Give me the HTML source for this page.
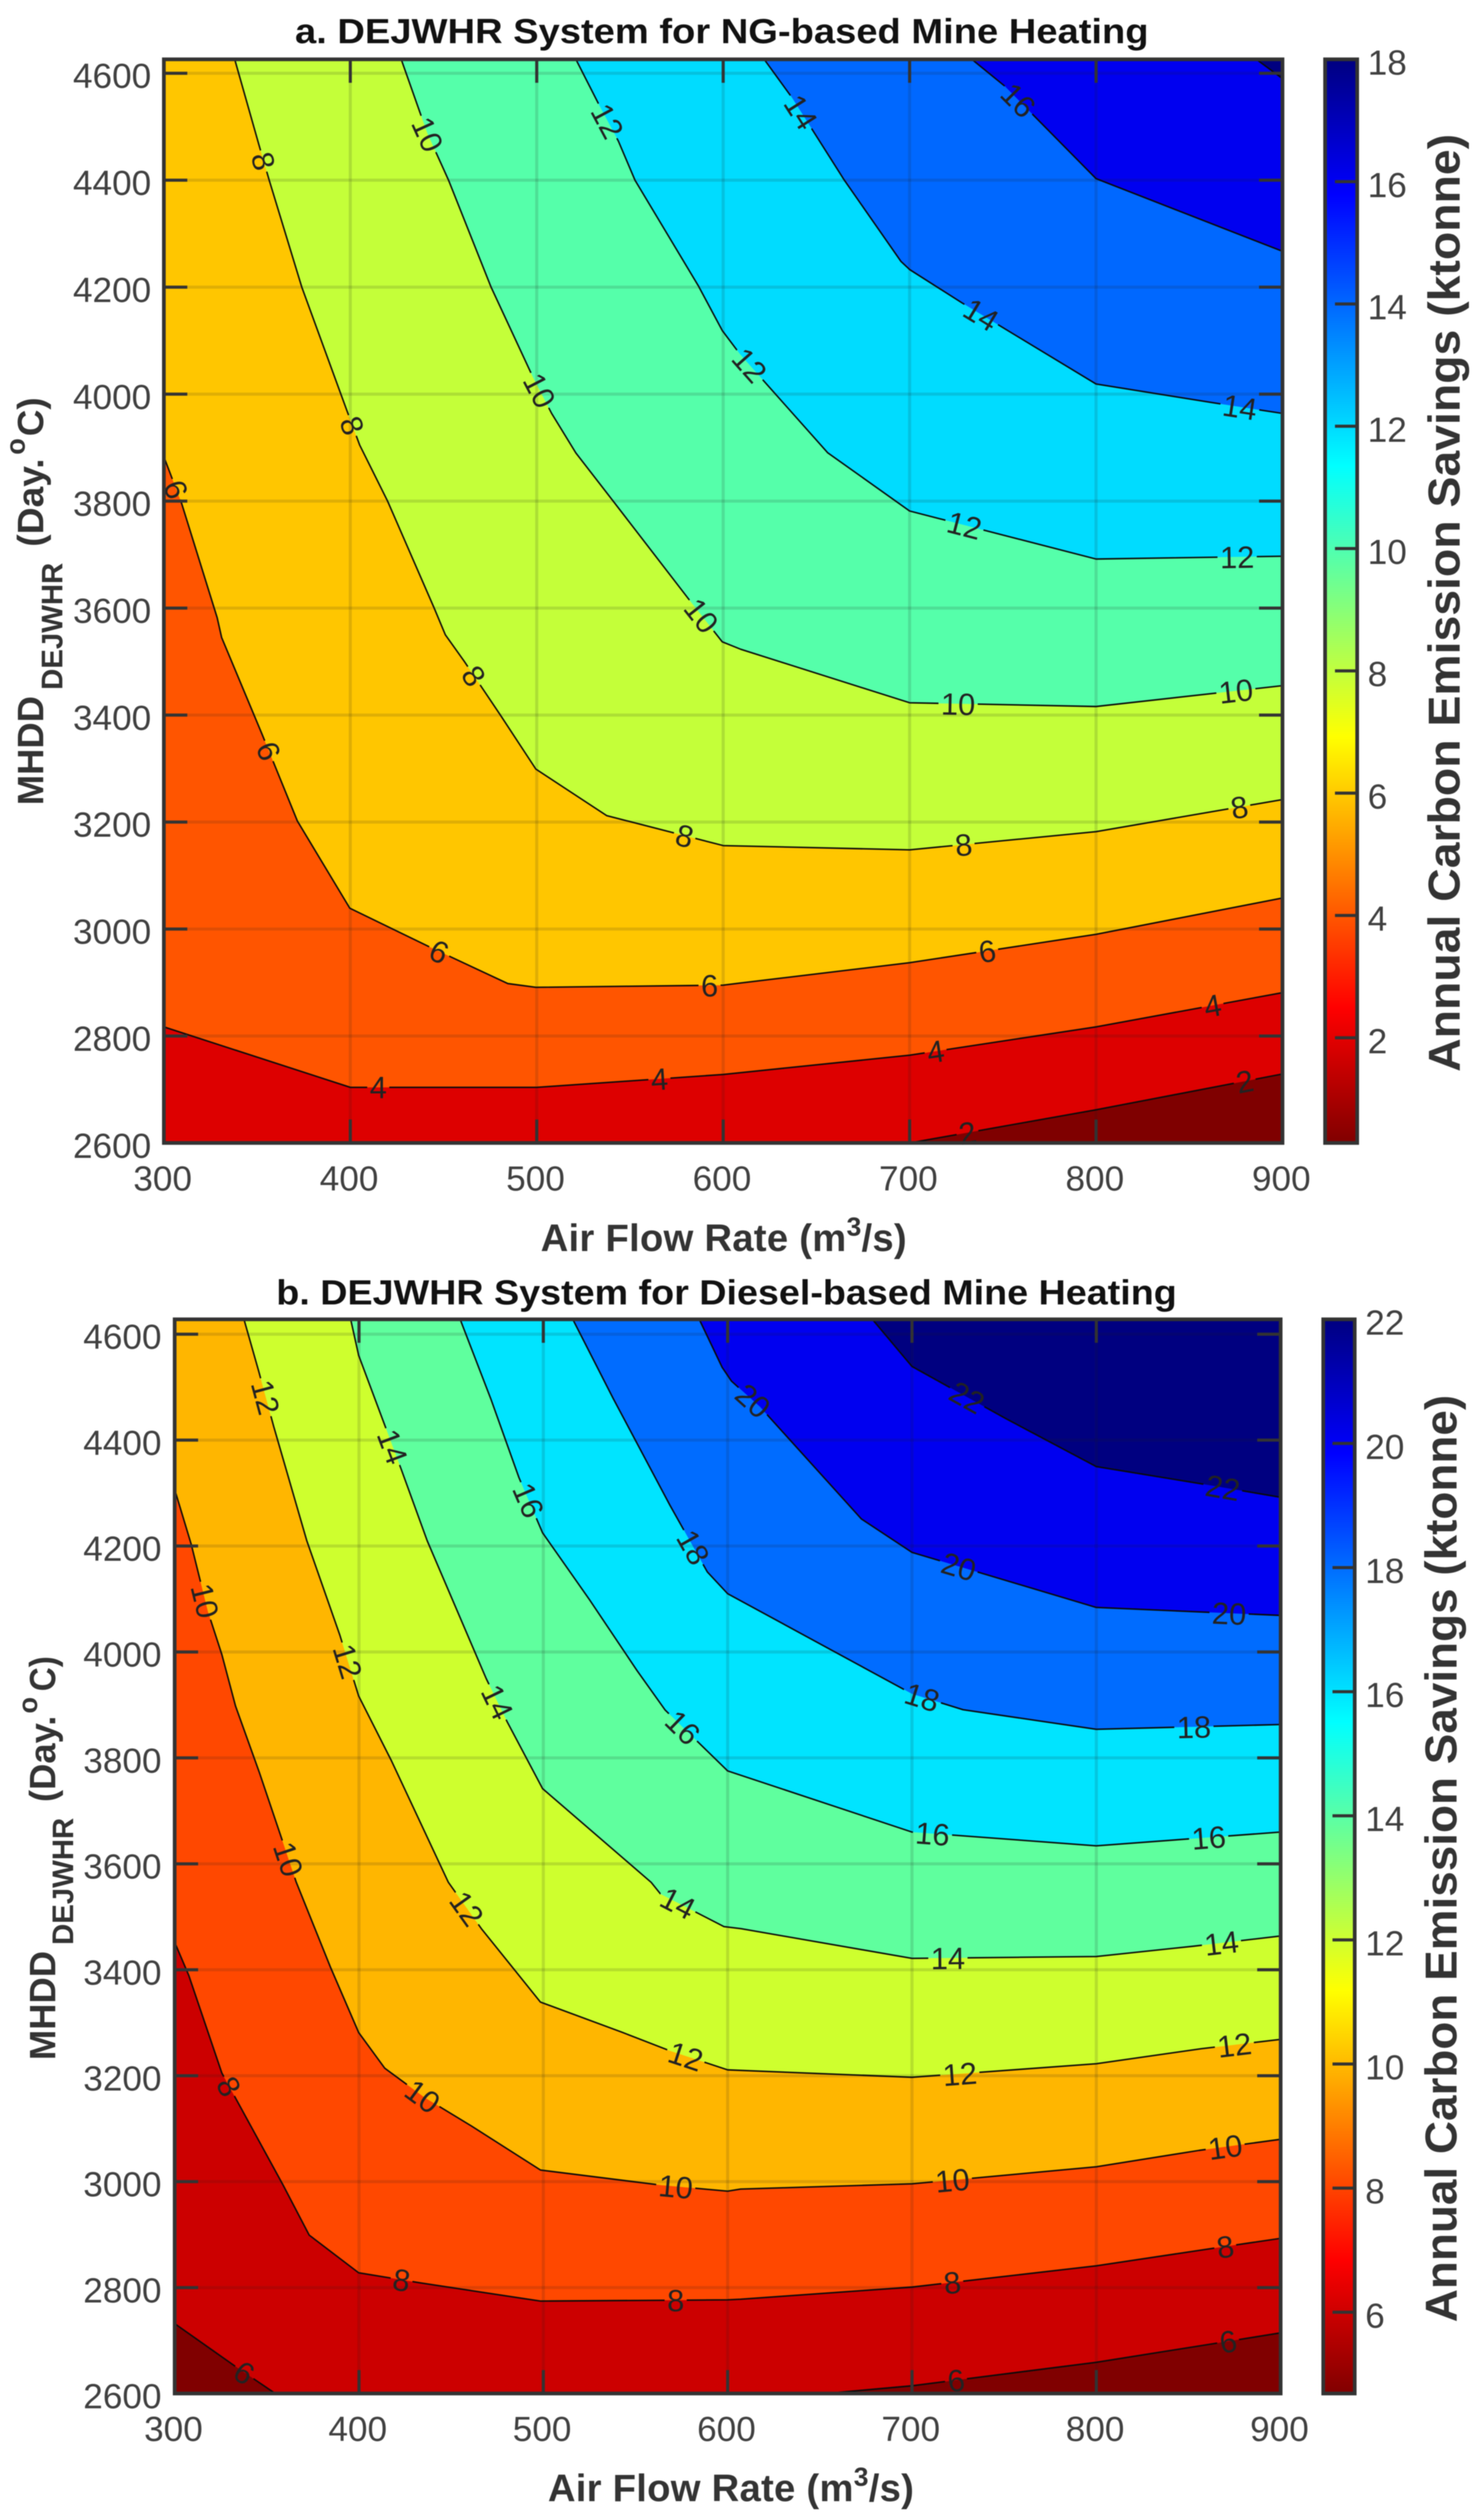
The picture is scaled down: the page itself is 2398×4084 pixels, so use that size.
<!DOCTYPE html>
<html lang="en">
<head>
<meta charset="utf-8">
<title>DEJWHR System Annual Carbon Emission Savings</title>
<style>
  html, body { margin: 0; padding: 0; background: #ffffff; }
  body { width: 2398px; height: 4084px; overflow: hidden; }
  svg { display: block; filter: blur(0.9px); font-family: "Liberation Sans", Arial, sans-serif; }
  .title { font-size: 57px; font-weight: bold; fill: #111; }
  .axis-title { font-size: 62px; font-weight: bold; fill: #333; letter-spacing: 0.4px; }
  .y-main { font-size: 59px; font-weight: bold; fill: #333; }
  .y-sub { font-size: 48px; font-weight: bold; fill: #333; }
  .y-sup { font-size: 44px; font-weight: bold; fill: #333; }
  .bar-title { font-size: 72px; font-weight: bold; fill: #333; }
</style>
</head>
<body>
<svg id="figure" xmlns="http://www.w3.org/2000/svg" width="2398" height="4084" viewBox="0 0 2398 4084">
  <defs id="figure-defs">
    <linearGradient id="jet-reversed" x1="0" y1="0" x2="0" y2="1">
      <stop offset="0" stop-color="#000080"/>
      <stop offset="0.125" stop-color="#0000ff"/>
      <stop offset="0.375" stop-color="#00ffff"/>
      <stop offset="0.625" stop-color="#ffff00"/>
      <stop offset="0.875" stop-color="#ff0000"/>
      <stop offset="1" stop-color="#800000"/>
    </linearGradient>
  </defs>
  <rect width="2398" height="4084" fill="#ffffff"/>

  <g id="panel-a">
    <text class="title" x="478" y="70" textLength="1383" lengthAdjust="spacingAndGlyphs">a. DEJWHR System for NG-based Mine Heating</text>
    <text class="axis-title" x="876" y="2027.7">Air Flow Rate (m<tspan font-size="43" dy="-25">3</tspan><tspan dy="25">/s)</tspan></text>
    <g>
      <text class="y-main" transform="translate(70,1305) rotate(-90)" textLength="177" lengthAdjust="spacingAndGlyphs">MHDD</text>
      <text class="y-sub" transform="translate(101,1118) rotate(-90)" textLength="206" lengthAdjust="spacingAndGlyphs">DEJWHR</text>
      <text class="y-main" transform="translate(70,886) rotate(-90)" textLength="143" lengthAdjust="spacingAndGlyphs">(Day.</text>
      <text class="y-sup" transform="translate(40,737) rotate(-90)">o</text>
      <text class="y-main" transform="translate(70,707) rotate(-90)" textLength="63" lengthAdjust="spacingAndGlyphs">C)</text>
    </g>
    <text class="bar-title" transform="translate(2365,1737) rotate(-90)" textLength="1520" lengthAdjust="spacingAndGlyphs">Annual Carbon Emission Savings  (ktonne)</text>
  </g>

  <g id="panel-b">
    <text class="title" x="447.7" y="2113.8" textLength="1459" lengthAdjust="spacingAndGlyphs">b. DEJWHR System for Diesel-based Mine Heating</text>
    <text class="axis-title" x="887.7" y="4053.7">Air Flow Rate (m<tspan font-size="43" dy="-25">3</tspan><tspan dy="25">/s)</tspan></text>
    <g>
      <text class="y-main" transform="translate(89.5,3338.8) rotate(-90)" textLength="177" lengthAdjust="spacingAndGlyphs">MHDD</text>
      <text class="y-sub" transform="translate(118.6,3152) rotate(-90)" textLength="206" lengthAdjust="spacingAndGlyphs">DEJWHR</text>
      <text class="y-main" transform="translate(89.5,2920.5) rotate(-90)" textLength="140" lengthAdjust="spacingAndGlyphs">(Day.</text>
      <text class="y-sup" transform="translate(60,2777) rotate(-90)">o</text>
      <text class="y-main" transform="translate(89.5,2741) rotate(-90)" textLength="57" lengthAdjust="spacingAndGlyphs">C)</text>
    </g>
    <text class="bar-title" transform="translate(2360,3763.5) rotate(-90)" textLength="1503" lengthAdjust="spacingAndGlyphs">Annual Carbon Emission Savings  (ktonne)</text>
  </g>
</svg>

<script>
// Shared axis ticks (air flow rate m3/s, MHDD day.degC)
const xTicks = [300, 400, 500, 600, 700, 800, 900];
const yTicks = [2600, 2800, 3000, 3200, 3400, 3600, 3800, 4000, 4200, 4400, 4600];

// Panel a: contour levels and [air flow, MHDD] vertices
const aLevels = [2, 4, 6, 8, 10, 12, 14, 16, 18];
const aContour2 = [[700,2600],[800,2662],[900,2729]];
const aContour4 = [[300,2817],[400,2704],[500,2704],[600,2728],[700,2764],[800,2817],[900,2881]];
const aContour6 = [[300,3883],[309.6,3795],[328.6,3582],[331,3545],[352.7,3364],[371.6,3202],[399.7,3039],[444,2964],[484.5,2898],[499.5,2891],[600,2895],[609.4,2899],[700,2937],[800,2990],[900,3058]];
const aContour8 = [[338,4626],[351,4466],[356.5,4400],[374,4200],[398,3971],[405,3905],[420,3800],[445,3600],[451,3550],[461,3501],[480.5,3400],[499.5,3299],[537.5,3212],[575.5,3178],[600,3156],[700,3148],[800,3182],[900,3242]];
const aContour10 = [[427.3,4626],[441.3,4488],[450,4421],[452.7,4400],[475.5,4200],[498.2,4030],[508,3964],[521,3890],[541,3800],[583,3610],[599.5,3537],[609.4,3523],[700,3423],[800,3416],[900,3455]];
const aContour12 = [[521,4626],[533.7,4539],[543.8,4473],[552.7,4400],[586.8,4201.8],[599.5,4119],[609,4075],[618.5,4037.6],[656,3890.6],[700,3781.6],[800,3691.7],[900,3697]];
const aContour14 = [[622,4626],[637,4554],[665,4400],[695.4,4248],[700,4233],[728,4171],[800,4019],[862.5,3984],[900,3964]];
const aContour16 = [[733.4,4626],[751,4576],[800,4403],[900,4267]];
const aContour18 = [[886,4626],[900,4590]];
const aSegments = [[aContour2],[aContour4],[aContour6],[aContour8],[aContour10],[aContour12],[aContour14],[aContour16],[aContour18]];
// Panel a: printed contour labels [value, air flow, MHDD]
const aLabels = [[8,352.7,4435],[10,441,4485],[12,536,4507],[10,501,4006],[8,400.8,3941],[6,305,3820],[12,614.4,4055],[14,639.7,4523],[16,756,4541.7],[14,737.7,4145],[14,877,3973],[12,729,3749.6],[12,875.7,3688],[10,584.7,3576],[8,466,3472.7],[6,355,3331],[8,579,3170],[6,447,2953],[6,592.7,2892.5],[4,415,2699],[4,565.8,2719],[10,726,3422],[10,875,3444.5],[8,729,3155],[8,877,3225],[6,741.8,2954.7],[4,714,2770],[4,862.5,2857],[2,731,2620],[2,880,2710.7]];
// Panel a: colorbar
const aBarTicks = [2, 4, 6, 8, 10, 12, 14, 16, 18];
const aBarRange = [0.28, 18];

// Panel b: contour levels and [air flow, MHDD] vertices
const bLevels = [6, 8, 10, 12, 14, 16, 18, 20, 22];
const bContour6Left = [[300,2732],[332.8,2651.5],[354.6,2600]];
const bContour6Right = [[653.4,2600],[700,2614.6],[800,2659],[863,2693.8],[900,2714.5]];
const bContour8 = [[300,3452],[307.7,3389],[325.6,3205],[358.9,2993],[373,2899],[399.8,2828],[433,2809],[498.4,2774.5],[600,2776.8],[607,2778],[700,2801],[800,2841],[863,2874],[900,2893]];
const bContour10 = [[300,4307],[309,4203],[318,4076.6],[325.6,3995],[333,3898],[346,3772],[359,3638],[366,3565],[384.5,3405],[399.8,3281.6],[414,3214],[435.6,3158.7],[461,3105],[498.4,3022],[563.6,2993.5],[600,2982],[607,2986],[700,2995.8],[800,3028],[855.7,3059],[900,3080]];
const bContour12 = [[337.6,4628],[345.6,4530],[353.7,4426],[371.7,4210],[389.6,4032],[399.8,3917],[417.7,3794],[448.5,3565],[466.4,3477.6],[498.4,3339],[543,3281.6],[568.7,3247],[600,3211],[700,3197],[800,3222.5],[857,3251],[900,3268.6]];
const bContour14 = [[395.5,4628],[399.8,4560],[415,4418.6],[423,4344],[437,4210],[469,3950],[480.4,3868],[499.6,3742],[558.5,3565],[563.6,3543],[598,3481.5],[607.3,3477.6],[700,3421.5],[800,3425],[853,3444.6],[900,3463.8]];
const bContour16 = [[454.9,4628],[471.5,4478],[486.8,4329],[499.6,4225],[525,4099],[550.8,3965],[566,3890.7],[600,3775.5],[700,3660],[800,3634],[900,3660]];
const bContour18 = [[516,4628],[538,4478],[568.7,4277],[589,4151],[600,4110],[700,3921],[727.7,3891],[800,3854],[900,3863]];
const bContour20 = [[584.6,4628],[597,4537.5],[602,4511.6],[617.5,4463],[672.6,4251],[700,4188],[800,4084],[900,4069]];
const bContour22 = [[678.5,4628],[700,4539],[750.7,4441],[800,4350],[863,4314],[900,4292]];
const bSegments = [[bContour6Left, bContour6Right],[bContour8],[bContour10],[bContour12],[bContour14],[bContour16],[bContour18],[bContour20],[bContour22]];
// Panel b: printed contour labels [value, air flow, MHDD]
const bLabels = [[12,348,4479.6],[14,417,4386],[16,491,4285],[18,581,4197],[20,613.7,4474],[22,729.7,4479.6],[22,868.5,4308.5],[20,725,4157],[20,872,4070.6],[18,705,3909],[18,853,3850],[16,711,3651],[16,861,3647.6],[10,317,4097],[12,392.6,3981],[14,473,3902],[16,575,3855],[10,361,3608],[12,457,3512],[14,573,3526],[10,434,3158.7],[12,577,3234],[8,328.5,3178],[10,571.8,2989.6],[8,423,2813],[8,571.8,2773],[6,337.4,2637.7],[14,719.5,3418],[14,868,3447],[12,726,3201],[12,875,3255],[10,722,2999],[10,870,3063],[8,722,2805],[8,870,2876],[6,724,2622],[6,871.6,2696]];
// Panel b: colorbar
const bBarTicks = [6, 8, 10, 12, 14, 16, 18, 20, 22];
const bBarRange = [4.69, 22];

// Band colours, lowest band first
const aBandColors = ['#7f0000','#dd0000','#ff5500','#ffc600','#c4ff39','#55ffaa','#00dcff','#0068ff','#0000f0','#000080'];
const bBandColors = ['#800000','#cc0000','#ff4800','#ffb600','#ceff2e','#5fff9e','#00e4ff','#006cff','#0000f0','#000080'];

const NS = 'http://www.w3.org/2000/svg';
const AXIS_COLOR = '#333333';
const LABEL_FONT = 50;
const TICK_FONT = 57;

function make(tag, parent, attrs) {
  const node = document.createElementNS(NS, tag);
  for (const key in attrs) { node.setAttribute(key, attrs[key]); }
  parent.appendChild(node);
  return node;
}

function renderPanel(cfg) {
  const root = document.getElementById(cfg.id);
  const defs = document.getElementById('figure-defs');
  const xMin = xTicks[0], xMax = xTicks[xTicks.length - 1];
  const yMin = yTicks[0], yRef = yTicks[yTicks.length - 1];
  const xAxis = v => cfg.left + (v - xMin) / (xMax - xMin) * (cfg.right - cfg.left);
  const yAxis = v => cfg.bottom + (v - yMin) / (yRef - yMin) * (cfg.y4600 - cfg.bottom);
  const top = yAxis(cfg.yMax);
  const barMin = cfg.barRange[0], barMax = cfg.barRange[1];
  const barAxis = v => cfg.bottom + (v - barMin) / (barMax - barMin) * (top - cfg.bottom);
  const px = p => [xAxis(p[0]), yAxis(p[1])];

  // Filled bands, painted from the lowest band upward
  const base = make('rect', root, { x: cfg.left, y: top, width: cfg.right - cfg.left, height: cfg.bottom - top, fill: cfg.colors[0] });
  
  
  cfg.levels.forEach(function (level, i) {
    const pts = [].concat.apply([], cfg.segments[i]);
    const first = pts[0];
    const closure = [[xMax, cfg.yMax]];
    if (first[0] <= xMin) { closure.push([xMin, cfg.yMax]); }
    else if (first[1] <= yMin) { closure.push([xMin, cfg.yMax], [xMin, yMin]); }
    const all = pts.concat(closure).map(px).map(q => q[0].toFixed(1) + ',' + q[1].toFixed(1)).join(' ');
    const band = make('polygon', root, { points: all, fill: cfg.colors[i + 1] });
    
    
  });

  // Grid lines
  xTicks.slice(1, -1).forEach(function (t) {
    const g = make('line', root, { x1: xAxis(t), x2: xAxis(t), y1: top, y2: cfg.bottom, stroke: 'rgba(30,30,30,0.14)', 'stroke-width': 5 });
    
    
  });
  yTicks.slice(1).forEach(function (t) {
    const g = make('line', root, { x1: cfg.left, x2: cfg.right, y1: yAxis(t), y2: yAxis(t), stroke: 'rgba(30,30,30,0.14)', 'stroke-width': 5 });
    
    
  });

  // Resolve each label onto its contour to get position and angle
  const placed = cfg.labels.map(function (entry) {
    const idx = cfg.levels.indexOf(entry[0]);
    const target = px([entry[1], entry[2]]);
    let best = { d: Infinity, x: target[0], y: target[1], angle: 0 };
    cfg.segments[idx].forEach(function (seg) {
      for (let k = 0; k < seg.length - 1; k++) {
        const a = px(seg[k]), b = px(seg[k + 1]);
        const dx = b[0] - a[0], dy = b[1] - a[1];
        const len2 = dx * dx + dy * dy || 1;
        const u = Math.max(0, Math.min(1, ((target[0] - a[0]) * dx + (target[1] - a[1]) * dy) / len2));
        const qx = a[0] + u * dx, qy = a[1] + u * dy;
        const d = Math.hypot(target[0] - qx, target[1] - qy);
        if (d < best.d) { best = { d: d, x: qx, y: qy, angle: Math.atan2(dy, dx) * 180 / Math.PI }; }
      }
    });
    return { value: entry[0], x: best.x, y: best.y, angle: best.angle };
  });

  // Mask that opens gaps in the contour lines behind the labels
  const mask = make('mask', defs, { id: cfg.id + '-label-gaps', maskUnits: 'userSpaceOnUse', x: 0, y: 0, width: 2398, height: 4084 });
  make('rect', mask, { x: 0, y: 0, width: 2398, height: 4084, fill: '#fff' });
  placed.forEach(function (lab) {
    const w = String(lab.value).length * LABEL_FONT * 0.556 + 8;
    make('rect', mask, { x: -w / 2, y: -19, width: w, height: 38, fill: '#000', transform: 'translate(' + lab.x + ',' + lab.y + ') rotate(' + lab.angle + ')' });
  });

  // Contour lines
  const lineGroup = make('g', root, { mask: 'url(#' + cfg.id + '-label-gaps)' });
  
  
  cfg.levels.forEach(function (level, i) {
    cfg.segments[i].forEach(function (seg) {
      const line = make('polyline', lineGroup, { points: seg.map(px).map(q => q[0].toFixed(1) + ',' + q[1].toFixed(1)).join(' '), fill: 'none', stroke: '#0a0a0a', 'stroke-width': 2.4, 'stroke-linejoin': 'round' });
      
      
    });
  });

  // Contour labels
  placed.forEach(function (lab) {
    const t = make('text', root, { 'font-size': LABEL_FONT, fill: '#222', 'text-anchor': 'middle', dy: '0.36em', transform: 'translate(' + lab.x + ',' + lab.y + ') rotate(' + lab.angle + ')' });
    t.textContent = String(lab.value);
    
    
  });

  // X ticks and labels
  xTicks.forEach(function (v) {
    const x = xAxis(v);
    if (v !== xMin && v !== xMax) {
      const tb = make('line', root, { x1: x, x2: x, y1: cfg.bottom, y2: cfg.bottom - 38, stroke: AXIS_COLOR, 'stroke-width': 5 });
      
      
      const tt = make('line', root, { x1: x, x2: x, y1: top, y2: top + 38, stroke: AXIS_COLOR, 'stroke-width': 5 });
      
      
    }
    const label = make('text', root, { x: x - 2, y: cfg.bottom + 77, 'font-size': TICK_FONT, fill: '#404040', 'text-anchor': 'middle' });
    label.textContent = String(v);
    
    
  });

  // Y ticks and labels
  yTicks.forEach(function (v) {
    const y = yAxis(v);
    if (v !== yMin) {
      const tl = make('line', root, { x1: cfg.left, x2: cfg.left + 38, y1: y, y2: y, stroke: AXIS_COLOR, 'stroke-width': 5 });
      
      
      const tr = make('line', root, { x1: cfg.right, x2: cfg.right - 38, y1: y, y2: y, stroke: AXIS_COLOR, 'stroke-width': 5 });
      
      
    }
    const label = make('text', root, { x: cfg.tickRight, y: y + 24, 'font-size': TICK_FONT, fill: '#404040', 'text-anchor': 'end' });
    label.textContent = String(v);
    
    
  });

  // Axes box
  const box = make('rect', root, { x: cfg.left, y: top, width: cfg.right - cfg.left, height: cfg.bottom - top, fill: 'none', stroke: AXIS_COLOR, 'stroke-width': 6 });
  
  

  // Colorbar
  const bar = make('rect', root, { x: cfg.barLeft, y: top, width: cfg.barRight - cfg.barLeft, height: cfg.bottom - top, fill: 'url(#jet-reversed)' });
  
  
  cfg.barTicks.forEach(function (v) {
    const y = barAxis(v);
    const tk = make('line', root, { x1: cfg.barRight, x2: cfg.barRight - 36, y1: y, y2: y, stroke: AXIS_COLOR, 'stroke-width': 5 });
    
    
    const label = make('text', root, { x: cfg.barRight + 17, y: y + 25, 'font-size': TICK_FONT, fill: '#404040' });
    label.textContent = String(v);
    
    
  });
  const barFrame = make('rect', root, { x: cfg.barLeft, y: top, width: cfg.barRight - cfg.barLeft, height: cfg.bottom - top, fill: 'none', stroke: AXIS_COLOR, 'stroke-width': 6 });
  
  
}

renderPanel({
  id: 'panel-a', left: 265.5, right: 2078, bottom: 1852.3, y4600: 118.7, yMax: 4626, tickRight: 245,
  barLeft: 2147, barRight: 2199,
  levels: aLevels, segments: aSegments, labels: aLabels, colors: aBandColors,
  barTicks: aBarTicks, barRange: aBarRange
});
renderPanel({
  id: 'panel-b', left: 283, right: 2075, bottom: 3879, y4600: 2162.2, yMax: 4628, tickRight: 261.7,
  barLeft: 2144, barRight: 2195,
  levels: bLevels, segments: bSegments, labels: bLabels, colors: bBandColors,
  barTicks: bBarTicks, barRange: bBarRange
});
</script>
</body>
</html>
